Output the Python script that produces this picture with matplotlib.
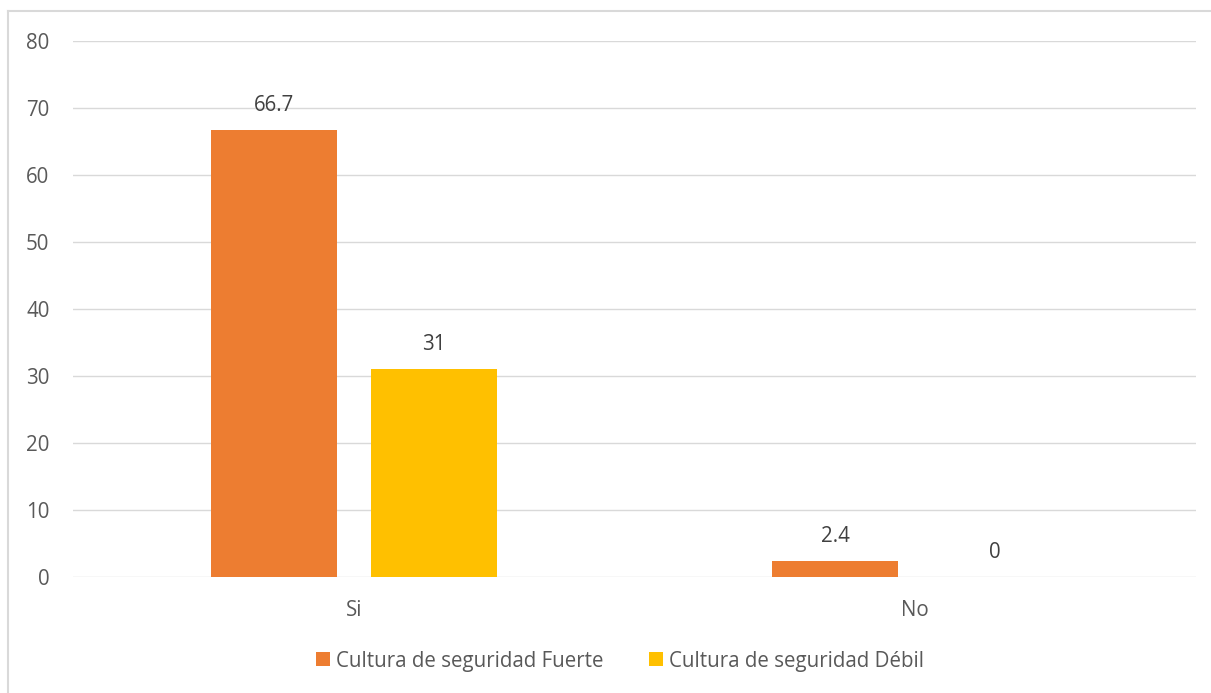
import matplotlib
matplotlib.use("Agg")
import matplotlib.pyplot as plt
from matplotlib.lines import Line2D
from matplotlib.patches import Patch
import numpy as np

categories = ["Si", "No"]
series_names = ["Cultura de seguridad Fuerte", "Cultura de seguridad Débil"]
fuerte = [66.7, 2.4]
debil = [31, 0]
value_labels_fuerte = ["66.7", "2.4"]
value_labels_debil = ["31", "0"]
yticks = [0, 10, 20, 30, 40, 50, 60, 70, 80]

ORANGE = "#ED7D31"
GOLD = "#FFC000"
TEXT = "#595959"
GRID = "#D9D9D9"
FS = 14.8

plt.rcParams["font.family"] = ["Open Sans", "DejaVu Sans"]

W, H = 1211, 693
fig = plt.figure(figsize=(W / 100, H / 100), dpi=100)
ax = fig.add_axes([73 / W, 116 / H, (1196 - 73) / W, (577 - 41) / H])

x = np.arange(len(categories))
width = 0.224
offset = 0.1425

b1 = ax.bar(x - offset, fuerte, width, color=ORANGE, zorder=3)
b2 = ax.bar(x + offset, debil, width, color=GOLD, zorder=3)

for bars, labels in ((b1, value_labels_fuerte), (b2, value_labels_debil)):
    for rect, lab in zip(bars, labels):
        ax.annotate(lab, (rect.get_x() + rect.get_width() / 2, rect.get_height()),
                    xytext=(0, 17.6), textcoords="offset points",
                    ha="center", va="center", fontsize=FS, color="#404040")

ax.set_xlim(-0.5, 1.5)
ax.set_ylim(0, 80)
ax.set_yticks(yticks)
ax.set_xticks(x)
ax.set_xticklabels(categories)
ax.tick_params(axis="both", length=0, labelsize=FS, labelcolor=TEXT)
ax.tick_params(axis="y", pad=17)
ax.tick_params(axis="x", pad=16.5)
ax.yaxis.grid(True, color=GRID, linewidth=1.0, zorder=0)
for s in ax.spines.values():
    s.set_visible(False)

handles = [Patch(facecolor=ORANGE), Patch(facecolor=GOLD)]
fig.legend(handles, series_names, loc="center", bbox_to_anchor=(620 / W, 1 - 661 / H),
           ncol=2, frameon=False, fontsize=FS, labelcolor=TEXT,
           handlelength=0.68, handleheight=0.68, handletextpad=0.3, columnspacing=2.2)

# outer chart frame (top and left edges)
fig.add_artist(Line2D([8 / W, 1.0], [1 - 11 / H, 1 - 11 / H], color=GRID, linewidth=1.5))
fig.add_artist(Line2D([8 / W, 8 / W], [0, 1 - 11 / H], color=GRID, linewidth=1.5))

fig.savefig("out.png", dpi=100, facecolor="white")
